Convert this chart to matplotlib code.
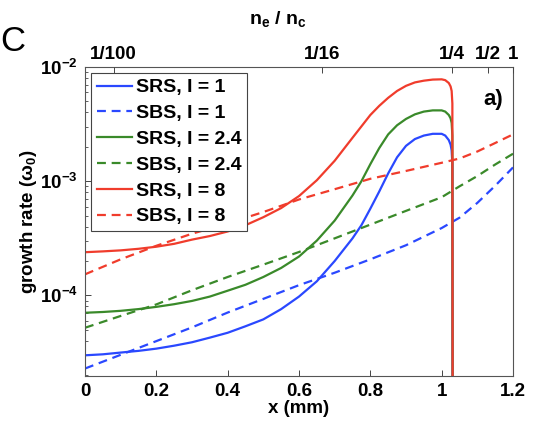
import matplotlib
matplotlib.use('Agg')
import matplotlib.pyplot as plt
from matplotlib.ticker import FixedLocator, FixedFormatter, LogLocator, NullFormatter

plt.rcParams['font.family'] = ['Liberation Sans', 'DejaVu Sans']
plt.rcParams['font.weight'] = 'bold'
plt.rcParams['mathtext.fontset'] = 'custom'
plt.rcParams['mathtext.rm'] = 'Liberation Sans:bold'
plt.rcParams['mathtext.bf'] = 'Liberation Sans:bold'
plt.rcParams['mathtext.it'] = 'Liberation Sans:bold:italic'
plt.rcParams['mathtext.default'] = 'bf'

# x positions (mm) of the read points
x_srs = [0, 0.05, 0.1, 0.15, 0.2, 0.25, 0.3, 0.35, 0.4, 0.45, 0.5, 0.55, 0.6, 0.65, 0.7, 0.75,
         0.775, 0.8, 0.825, 0.85, 0.875, 0.9, 0.925, 0.95, 0.975, 1.0, 1.01, 1.02, 1.025, 1.028,
         1.03, 1.031]
x_sbs = [0, 0.1, 0.2, 0.3, 0.4, 0.5, 0.6, 0.7, 0.8, 0.9, 1.0, 1.05, 1.1, 1.15, 1.2]

# growth rates (omega_0); the last SRS value is below the axis (cut-off at n_c/4)
srs_1 = [2.99e-5, 3.05e-5, 3.16e-5, 3.27e-5, 3.42e-5, 3.63e-5, 3.89e-5, 4.27e-5, 4.71e-5, 5.37e-5,
         6.17e-5, 7.59e-5, 9.77e-5, 1.33e-4, 2.00e-4, 3.16e-4, 4.12e-4, 5.75e-4, 8.13e-4, 1.17e-3,
         1.62e-3, 2.04e-3, 2.34e-3, 2.51e-3, 2.60e-3, 2.60e-3, 2.51e-3, 2.29e-3, 2.09e-3, 1.86e-3,
         1.41e-3, 1e-6]
srs_24 = [7.05e-5, 7.16e-5, 7.33e-5, 7.59e-5, 7.94e-5, 8.38e-5, 8.95e-5, 9.77e-5, 1.10e-4, 1.24e-4,
          1.45e-4, 1.74e-4, 2.19e-4, 3.02e-4, 4.52e-4, 7.50e-4, 1.00e-3, 1.41e-3, 1.95e-3, 2.57e-3,
          3.09e-3, 3.51e-3, 3.85e-3, 4.07e-3, 4.17e-3, 4.17e-3, 4.07e-3, 3.80e-3, 3.55e-3, 3.24e-3,
          2.51e-3, 1e-6]
srs_8 = [2.39e-4, 2.43e-4, 2.48e-4, 2.56e-4, 2.67e-4, 2.83e-4, 3.08e-4, 3.31e-4, 3.63e-4, 4.12e-4,
         4.84e-4, 5.82e-4, 7.41e-4, 1.02e-3, 1.51e-3, 2.40e-3, 3.02e-3, 3.80e-3, 4.57e-3, 5.37e-3,
         6.17e-3, 6.84e-3, 7.33e-3, 7.59e-3, 7.76e-3, 7.80e-3, 7.67e-3, 7.24e-3, 6.76e-3, 6.17e-3,
         4.79e-3, 1e-6]
sbs_1 = [2.29e-5, 3.02e-5, 3.98e-5, 5.25e-5, 7.08e-5, 9.33e-5, 1.23e-4, 1.58e-4, 2.07e-4, 2.75e-4,
         3.89e-4, 4.79e-4, 6.46e-4, 9.12e-4, 1.32e-3]
sbs_24 = [5.21e-5, 6.61e-5, 8.34e-5, 1.11e-4, 1.45e-4, 1.86e-4, 2.40e-4, 3.16e-4, 4.17e-4, 5.50e-4,
          7.24e-4, 9.02e-4, 1.11e-3, 1.40e-3, 1.74e-3]
sbs_8 = [1.53e-4, 2.07e-4, 2.72e-4, 3.47e-4, 4.27e-4, 5.37e-4, 6.92e-4, 8.51e-4, 1.05e-3, 1.23e-3,
         1.45e-3, 1.58e-3, 1.82e-3, 2.16e-3, 2.57e-3]

# top axis: density n_e/n_c
top_pos = [0.080, 0.665, 1.028, 1.129, 1.2]
top_labels = ['1/100', '1/16', '1/4', '1/2', '1']

x_ticks = [0, 0.2, 0.4, 0.6, 0.8, 1, 1.2]
x_tick_labels = ['0', '0.2', '0.4', '0.6', '0.8', '1', '1.2']
y_ticks = [1e-4, 1e-3, 1e-2]
y_tick_labels = [r'$10^{-4}$', r'$10^{-3}$', r'$10^{-2}$']

blue = '#2a48ff'
green = '#3a8a2a'
red = '#f03c2c'
lw = 1.6
dash = (4, 2.6)
fs = 13.5

fig = plt.figure(figsize=(5.37, 4.28), dpi=100)
ax = fig.add_axes([85 / 537, 1 - 376 / 428, 428 / 537, 309 / 428])

ax.semilogy(x_srs, srs_1, color=blue, lw=lw, label='SRS, I = 1')
ax.semilogy(x_sbs, sbs_1, color=blue, lw=lw, dashes=dash, label='SBS, I = 1')
ax.semilogy(x_srs, srs_24, color=green, lw=lw, label='SRS, I = 2.4')
ax.semilogy(x_sbs, sbs_24, color=green, lw=lw, dashes=dash, label='SBS, I = 2.4')
ax.semilogy(x_srs, srs_8, color=red, lw=lw, label='SRS, I = 8')
ax.semilogy(x_sbs, sbs_8, color=red, lw=lw, dashes=dash, label='SBS, I = 8')

ax.set_xlim(0, 1.2)
ax.set_ylim(1.97e-5, 1e-2)

ax.xaxis.set_major_locator(FixedLocator(x_ticks))
ax.xaxis.set_major_formatter(FixedFormatter(x_tick_labels))
ax.yaxis.set_major_locator(FixedLocator(y_ticks))
ax.yaxis.set_major_formatter(FixedFormatter(y_tick_labels))
ax.yaxis.set_minor_locator(LogLocator(base=10, subs=range(2, 10)))
ax.yaxis.set_minor_formatter(NullFormatter())
ax.tick_params(axis='both', which='both', direction='in', labelsize=fs, colors='#444444',
               labelcolor='black')
ax.tick_params(axis='both', which='major', length=4, width=0.7, pad=5)
ax.tick_params(axis='y', which='minor', length=2.5, width=0.6)
for s in ax.spines.values():
    s.set_color('#555555')
    s.set_linewidth(0.8)

ax.set_xlabel('x (mm)', fontsize=fs, fontweight='bold', labelpad=0)
ax.set_ylabel('growth rate (ω$_0$)', fontsize=fs, fontweight='bold', labelpad=1)

ax2 = ax.twiny()
ax2.set_xlim(0, 1.2)
ax2.xaxis.set_major_locator(FixedLocator(top_pos))
ax2.xaxis.set_major_formatter(FixedFormatter(top_labels))
ax2.tick_params(axis='x', direction='in', length=4, width=0.7, pad=3, labelsize=fs,
                colors='#444444', labelcolor='black')
ax2.set_xlabel(r'n$_\mathbf{e}$ / n$_\mathbf{c}$', fontsize=14, fontweight='bold')
ax2.xaxis.set_label_coords(0.45, 1.14)
for s in ax2.spines.values():
    s.set_visible(False)

leg = ax.legend(loc='upper left', bbox_to_anchor=(6 / 428, 1 - 6 / 309), fontsize=14,
                handlelength=1.8, handletextpad=0.2, labelspacing=0.42, borderpad=0.3,
                borderaxespad=0, fancybox=False, framealpha=1)
leg.get_frame().set_edgecolor('#444444')
leg.get_frame().set_linewidth(0.8)
for t in leg.get_texts():
    t.set_fontweight('bold')

ax.text(0.955, 0.895, 'a)', transform=ax.transAxes, fontsize=16, fontweight='bold',
        ha='center', va='center')
fig.text(0.0, 0.902, 'C', fontsize=25, fontweight='normal', ha='left', va='center')

fig.savefig('out.png', dpi=100)
